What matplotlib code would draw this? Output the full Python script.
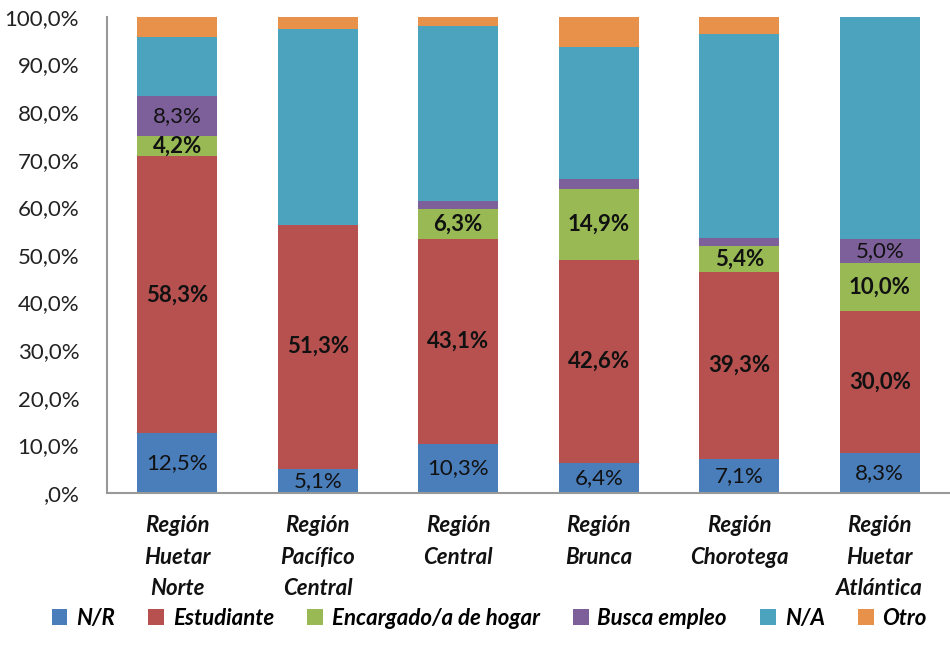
import numpy as np
from matplotlib import pyplot as plt
from matplotlib.ticker import FuncFormatter
from matplotlib.patches import Patch

plt.rcParams['font.family'] = ['Lato', 'DejaVu Sans']

# Datos
regiones = ['Región\nHuetar\nNorte', 'Región\nPacífico\nCentral', 'Región\nCentral',
            'Región\nBrunca', 'Región\nChorotega', 'Región\nHuetar\nAtlántica']
categorias = ['N/R', 'Estudiante', 'Encargado/a de hogar', 'Busca empleo', 'N/A', 'Otro']
nr = [12.5, 5.1, 10.3, 6.4, 7.1, 8.3]
estudiante = [58.3, 51.3, 43.1, 42.6, 39.3, 30.0]
encargado = [4.2, 0.0, 6.3, 14.9, 5.4, 10.0]
busca = [8.3, 0.0, 1.6, 2.1, 1.8, 5.0]
na = [12.5, 41.0, 36.8, 27.7, 42.8, 46.7]
otro = [4.2, 2.6, 1.9, 6.3, 3.6, 0.0]

# Etiquetas visibles (None = sin etiqueta)
lab_nr = nr
lab_est = estudiante
lab_enc = [4.2, None, 6.3, 14.9, 5.4, 10.0]
lab_busca = [8.3, None, None, None, None, 5.0]

series = [nr, estudiante, encargado, busca, na, otro]
etiquetas = [lab_nr, lab_est, lab_enc, lab_busca, None, None]
negrita = [False, True, True, False, False, False]
colores = ['#4a7ebb', '#b65150', '#98b954', '#7d5f9a', '#4ba3bd', '#e8914a']

fig = plt.figure(figsize=(9.5, 6.62), dpi=100)
ax = fig.add_axes([0.1126, 0.2553, 0.8874, 0.7191])

x = np.arange(len(regiones))
base = np.zeros(len(regiones))
for vals, labs, bold, col in zip(series, etiquetas, negrita, colores):
    vals = np.array(vals)
    ax.bar(x, vals, bottom=base, width=0.57, color=col, linewidth=0)
    if labs is not None:
        for i, v in enumerate(labs):
            if v is None:
                continue
            ax.text(x[i], base[i] + vals[i] / 2, f'{v:.1f}%'.replace('.', ','),
                    ha='center', va='center', fontsize=16, color='#111111',
                    fontweight='bold' if bold else 'normal')
    base = base + vals

ax.set_xlim(-0.5, 5.5)
ax.set_ylim(0, 100)
ax.set_yticks(np.arange(0, 101, 10))
ax.yaxis.set_major_formatter(FuncFormatter(
    lambda v, p: ',0%' if v == 0 else f'{v:.1f}%'.replace('.', ',')))
ax.set_xticks(x)
ax.set_xticklabels(regiones, fontsize=16, fontweight='bold', fontstyle='italic',
                   linespacing=1.62)
ax.tick_params(axis='y', length=0, labelsize=16, pad=20, labelcolor='#222222')
ax.tick_params(axis='x', length=0, pad=16, labelcolor='#111111')
for s in ['top', 'right']:
    ax.spines[s].set_visible(False)
ax.spines['left'].set_color('#999999')
ax.spines['bottom'].set_color('#999999')
ax.spines['left'].set_linewidth(1.5)
ax.spines['bottom'].set_linewidth(1.5)

handles = [Patch(facecolor=c, edgecolor='none') for c in colores]
fig.legend(handles, categorias, loc='center', bbox_to_anchor=(0.515, 0.066), ncol=6,
           frameon=False, handlelength=0.7, handleheight=0.7, handletextpad=0.4,
           columnspacing=1.5,
           prop={'size': 16, 'weight': 'bold', 'style': 'italic'})

plt.savefig('out.png', dpi=100)
